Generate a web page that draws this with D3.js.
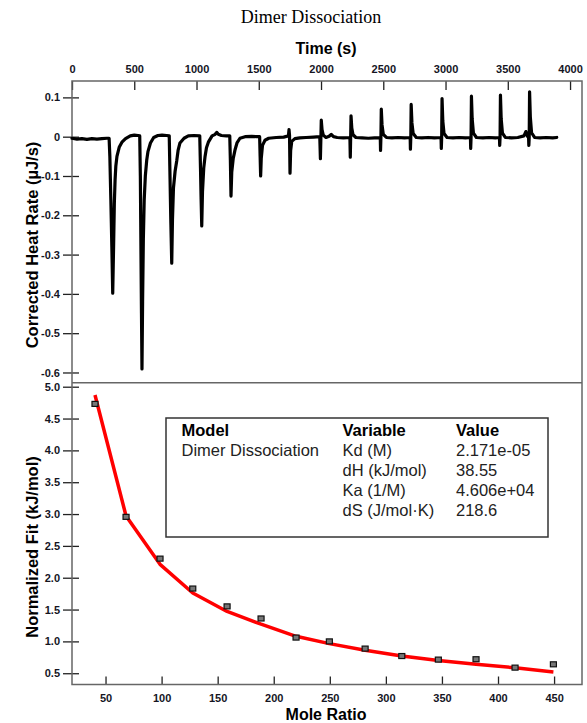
<!DOCTYPE html>
<html>
<head>
<meta charset="utf-8">
<script src="https://cdn.jsdelivr.net/npm/d3@7"></script>
<style>
  body { margin: 0; background: #fff; }
</style>
</head>
<body>
<div id="chart"></div>
<script>
// thermogram: [time (s), corrected heat rate (uJ/s)]
const thermogram = [
  [0, -0.004], [40, -0.006], [80, -0.005], [120, -0.007], [160, -0.005], [200, -0.006], [240, -0.005], [280, -0.004], [298, -0.004],
  [304, -0.05], [312, -0.16], [320, -0.28], [327, -0.398], [334, -0.28], [340, -0.17], [346, -0.11], [352, -0.075], [361, -0.05],
  [380, -0.026], [401, -0.014], [430, -0.005], [468, 0.002], [500, 0.004], [530, 0.003], [544, 0.002],
  [549, -0.1], [554, -0.3], [558, -0.45], [562, -0.591], [567, -0.42], [573, -0.26], [580, -0.16], [589, -0.1], [600, -0.06],
  [610, -0.038], [630, -0.016], [656, -0.002], [690, 0.003], [723, 0.004], [760, 0.003], [781, 0.002],
  [787, -0.1], [794, -0.22], [801, -0.322], [807, -0.21], [815, -0.13], [828, -0.088], [841, -0.062], [852, -0.035], [867, -0.016],
  [900, -0.004], [934, 0.002], [980, 0.003], [1026, 0.002],
  [1032, -0.08], [1037, -0.16], [1042, -0.227], [1048, -0.14], [1058, -0.08], [1068, -0.052], [1080, -0.028], [1095, -0.014],
  [1125, 0.002], [1150, 0.006], [1162, 0.011], [1175, 0.006], [1200, 0.003], [1240, 0.002], [1267, 0.002],
  [1272, -0.06], [1277, -0.151], [1283, -0.09], [1295, -0.055], [1309, -0.034], [1325, -0.016], [1349, -0.004], [1390, 0.0],
  [1443, 0.001], [1480, 0.0], [1507, 0.0],
  [1511, -0.05], [1515, -0.1], [1520, -0.055], [1530, -0.022], [1550, -0.009], [1580, -0.004], [1640, -0.002], [1700, -0.001], [1738, 0.002],
  [1743, 0.018], [1747, 0.004], [1751, -0.093], [1756, -0.035], [1765, -0.012], [1790, -0.005], [1830, -0.003], [1880, -0.002],
  [1940, -0.001], [1990, 0.0],
  [1995, -0.056], [1999, -0.002], [2002, 0.042], [2008, 0.018], [2018, 0.004], [2040, -0.002], [2065, 0.001], [2082, 0.006],
  [2100, 0.0], [2130, -0.002], [2180, -0.003], [2232, -0.002],
  [2235, -0.052], [2238, -0.002], [2241, 0.053], [2247, 0.022], [2257, 0.005], [2280, -0.002], [2330, -0.003], [2380, -0.004],
  [2430, -0.003], [2476, -0.003],
  [2478, -0.035], [2481, -0.002], [2484, 0.07], [2490, 0.03], [2500, 0.006], [2525, -0.002], [2570, -0.003], [2620, -0.002],
  [2670, -0.003], [2716, -0.002],
  [2718, -0.032], [2721, -0.002], [2724, 0.082], [2730, 0.035], [2740, 0.008], [2765, -0.002], [2810, -0.003], [2860, -0.002],
  [2910, -0.003], [2964, -0.002],
  [2966, -0.03], [2969, -0.002], [2972, 0.097], [2978, 0.04], [2988, 0.008], [3012, -0.002], [3060, -0.003], [3110, -0.002],
  [3160, -0.003], [3200, -0.002],
  [3202, -0.03], [3205, -0.002], [3208, 0.103], [3214, 0.045], [3224, 0.009], [3248, -0.002], [3300, -0.003], [3350, -0.002],
  [3400, -0.003], [3433, -0.002],
  [3435, -0.022], [3438, -0.002], [3441, 0.106], [3447, 0.045], [3457, 0.009], [3480, -0.002], [3530, -0.003], [3580, -0.002],
  [3630, 0.002], [3645, 0.013], [3660, 0.0], [3667, -0.002],
  [3669, -0.022], [3672, -0.002], [3675, 0.114], [3681, 0.05], [3691, 0.01], [3715, -0.002], [3760, -0.003], [3810, -0.002],
  [3860, -0.003], [3893, -0.002]
];

// integrated heats
const moleRatio = [40.6, 68.3, 98.6, 127.8, 158.4, 188.7, 219.9, 249.6, 281.5, 314.2, 346.8, 380.4, 415.2, 449.4];
const normHeat = [4.73, 2.956, 2.30, 1.83, 1.55, 1.36, 1.06, 1.00, 0.887, 0.77, 0.714, 0.72, 0.588, 0.64];
const fitHeat = [4.87, 2.97, 2.21, 1.76, 1.47, 1.27, 1.08, 0.965, 0.86, 0.77, 0.70, 0.64, 0.585, 0.52];

const timeTicks = [0, 500, 1000, 1500, 2000, 2500, 3000, 3500, 4000];
const rateTicks = [0.1, 0, -0.1, -0.2, -0.3, -0.4, -0.5, -0.6];
const ratioTicks = [50, 100, 150, 200, 250, 300, 350, 400, 450];
const fitTicks = [0.5, 1.0, 1.5, 2.0, 2.5, 3.0, 3.5, 4.0, 4.5, 5.0];

const legendHeader = ['Model', 'Variable', 'Value'];
const modelName = 'Dimer Dissociation';
const paramNames = ['Kd (M)', 'dH (kJ/mol)', 'Ka (1/M)', 'dS (J/mol\u00B7K)'];
const paramValues = ['2.171e-05', '38.55', '4.606e+04', '218.6'];

const width = 587;
const height = 723;
const plotLeft = 72;
const plotRight = 582;
const top1 = 81;
const mid = 382.7;
const bottom2 = 684.5;
const sans = 'Arial, "Liberation Sans", sans-serif';
const ink = '#15151f';

const x1 = d3.scaleLinear().domain([0, 4096]).range([plotLeft, plotRight]);
const y1 = d3.scaleLinear().domain([-0.626, 0.1417]).range([mid, top1]);
const x2 = d3.scaleLinear().domain([20.1, 474.9]).range([plotLeft, plotRight]);
const y2 = d3.scaleLinear().domain([0.323, 5.063]).range([bottom2, mid]);

const svg = d3
  .select('#chart')
  .append('svg')
  .attr('width', width)
  .attr('height', height)
  .style('display', 'block');

svg.append('rect').attr('width', width).attr('height', height).attr('fill', '#fff');

// title
svg
  .append('text')
  .attr('x', 311)
  .attr('y', 23)
  .attr('text-anchor', 'middle')
  .attr('font-family', '"Times New Roman", "Liberation Serif", serif')
  .attr('font-size', 18)
  .attr('fill', '#000')
  .text('Dimer Dissociation');

function styleAxis(g) {
  g.select('.domain').remove();
  g.selectAll('line').attr('stroke', '#222').attr('stroke-width', 1.3);
  g.selectAll('text')
    .attr('font-family', sans)
    .attr('font-weight', 'bold')
    .attr('font-size', 11)
    .attr('fill', ink);
}

// top axis (time), ticks inward
svg
  .append('g')
  .attr('transform', `translate(0,${top1})`)
  .call(d3.axisTop(x1).tickValues(timeTicks).tickSize(-9).tickPadding(8).tickFormat(d3.format('d')))
  .call(styleAxis);

svg
  .append('g')
  .attr('transform', `translate(${plotLeft},0)`)
  .call(
    d3.axisLeft(y1)
      .tickValues(rateTicks)
      .tickSize(9)
      .tickPadding(3)
      .tickFormat((d) => (d === 0 ? '0' : d.toFixed(1)))
  )
  .call(styleAxis)
  .call((g) => g.selectAll('.tick line').attr('x1', 7));

svg
  .append('g')
  .attr('transform', `translate(0,${bottom2})`)
  .call(d3.axisBottom(x2).tickValues(ratioTicks).tickSize(-8).tickPadding(10).tickFormat(d3.format('d')))
  .call(styleAxis);

svg
  .append('g')
  .attr('transform', `translate(${plotLeft},0)`)
  .call(d3.axisLeft(y2).tickValues(fitTicks).tickSize(9).tickPadding(3).tickFormat((d) => d.toFixed(1)))
  .call(styleAxis)
  .call((g) => g.selectAll('.tick line').attr('x1', 7));

// frames
svg
  .append('rect')
  .attr('x', plotLeft)
  .attr('y', top1)
  .attr('width', plotRight - plotLeft)
  .attr('height', bottom2 - top1)
  .attr('fill', 'none')
  .attr('stroke', '#666')
  .attr('stroke-width', 1.5);
svg
  .append('line')
  .attr('x1', plotLeft)
  .attr('x2', plotRight)
  .attr('y1', mid)
  .attr('y2', mid)
  .attr('stroke', '#666')
  .attr('stroke-width', 1.5);

// thermogram trace
const line1 = d3
  .line()
  .x((d) => x1(d[0]))
  .y((d) => y1(d[1]));
svg
  .append('path')
  .datum(thermogram)
  .attr('fill', 'none')
  .attr('stroke', '#000')
  .attr('stroke-width', 3.2)
  .attr('stroke-linejoin', 'round')
  .attr('stroke-linecap', 'round')
  .attr('d', line1);

// fit curve
const fitLine = d3
  .line()
  .x((d, i) => x2(moleRatio[i]))
  .y((d) => y2(d));
svg
  .append('path')
  .datum(fitHeat)
  .attr('fill', 'none')
  .attr('stroke', '#ff0000')
  .attr('stroke-width', 3.5)
  .attr('stroke-linejoin', 'round')
  .attr('d', fitLine);

// data markers
svg
  .append('g')
  .selectAll('rect')
  .data(normHeat)
  .join('rect')
  .attr('x', (d, i) => x2(moleRatio[i]) - 3)
  .attr('y', (d) => y2(d) - 2.5)
  .attr('width', 6)
  .attr('height', 5)
  .attr('fill', '#777')
  .attr('stroke', '#111')
  .attr('stroke-width', 1.2);

// axis titles
const titleStyle = (t) =>
  t.attr('font-family', sans).attr('font-weight', 'bold').attr('font-size', 16).attr('fill', '#000').attr('text-anchor', 'middle');

svg.append('text').attr('x', 326).attr('y', 54).text('Time (s)').call(titleStyle);
svg.append('text').attr('x', 326).attr('y', 720).text('Mole Ratio').call(titleStyle);
svg
  .append('text')
  .attr('transform', 'translate(38,245) rotate(-90)')
  .text('Corrected Heat Rate (\u00B5J/s)')
  .call(titleStyle)
  .attr('font-size', 16.5);
svg
  .append('text')
  .attr('transform', 'translate(38,547) rotate(-90)')
  .text('Normalized Fit (kJ/mol)')
  .call(titleStyle)
  .attr('font-size', 16.5);

// parameter table
const table = svg.append('g');
table
  .append('rect')
  .attr('x', 166)
  .attr('y', 418)
  .attr('width', 382)
  .attr('height', 119)
  .attr('fill', '#fff')
  .attr('stroke', '#333')
  .attr('stroke-width', 1.5);

const colX = [181.5, 342.5, 456];
const rowY = [436, 456, 476, 496, 516];
const cell = (x, y, s, bold) =>
  table
    .append('text')
    .attr('x', x)
    .attr('y', y)
    .attr('font-family', sans)
    .attr('font-size', 16.5)
    .attr('font-weight', bold ? 'bold' : 'normal')
    .attr('fill', bold ? '#000' : '#222')
    .text(s);

legendHeader.forEach((h, i) => cell(colX[i], rowY[0], h, true));
cell(colX[0], rowY[1], modelName, false);
paramNames.forEach((p, i) => {
  cell(colX[1], rowY[i + 1], p, false);
  cell(colX[2], rowY[i + 1], paramValues[i], false);
});
</script>
</body>
</html>
